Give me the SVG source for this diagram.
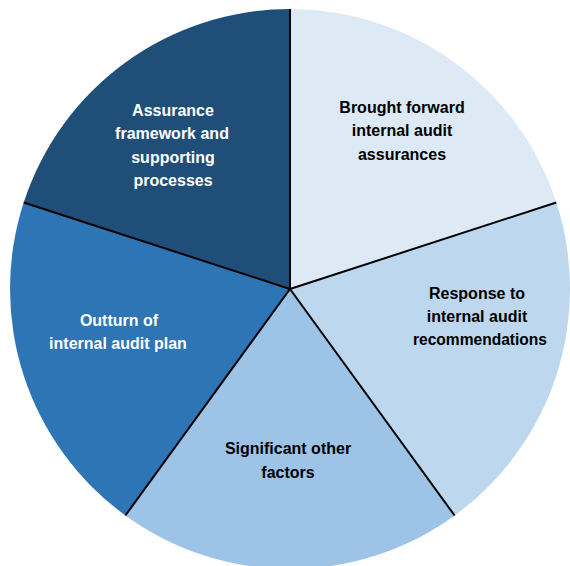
<svg xmlns="http://www.w3.org/2000/svg" width="570" height="566" viewBox="0 0 570 566">
  <style>
    .lbl { font-family: "Liberation Sans", Arial, sans-serif; font-weight: bold; font-size: 16px; text-anchor: middle; }
    .dark { fill: #000000; }
    .light { fill: #ffffff; }
    .sep { stroke: #000000; stroke-width: 2; fill: none; }
  </style>
  <rect width="570" height="566" fill="#ffffff"/>

  <g id="slice-brought-forward">
    <path d="M290,289 L290,9 A280,280 0 0 1 556.3,202.5 Z" fill="#dde9f5"/>
    <text class="lbl dark" x="402" y="113">Brought forward</text>
    <text class="lbl dark" x="402" y="136">internal audit</text>
    <text class="lbl dark" x="402" y="160">assurances</text>
  </g>

  <g id="slice-response">
    <path d="M290,289 L556.3,202.5 A280,280 0 0 1 454.6,515.5 Z" fill="#bdd7ee"/>
    <text class="lbl dark" x="477" y="299">Response to</text>
    <text class="lbl dark" x="477" y="322">internal audit</text>
    <text class="lbl dark" x="480" y="345" textLength="134" lengthAdjust="spacingAndGlyphs">recommendations</text>
  </g>

  <g id="slice-significant">
    <path d="M290,289 L454.6,515.5 A280,280 0 0 1 125.4,515.5 Z" fill="#9dc3e6"/>
    <text class="lbl dark" x="288" y="454">Significant other</text>
    <text class="lbl dark" x="288" y="478">factors</text>
  </g>

  <g id="slice-outturn">
    <path d="M290,289 L125.4,515.5 A280,280 0 0 1 23.7,202.5 Z" fill="#2e75b6"/>
    <text class="lbl light" x="119" y="326">Outturn of</text>
    <text class="lbl light" x="118" y="349">internal audit plan</text>
  </g>

  <g id="slice-assurance">
    <path d="M290,289 L23.7,202.5 A280,280 0 0 1 290,9 Z" fill="#1f4e79"/>
    <text class="lbl light" x="173" y="116">Assurance</text>
    <text class="lbl light" x="172" y="139">framework and</text>
    <text class="lbl light" x="173" y="163">supporting</text>
    <text class="lbl light" x="173" y="186">processes</text>
  </g>

  <g id="connectors">
    <line class="sep" x1="290" y1="289" x2="290" y2="9"/>
    <line class="sep" x1="290" y1="289" x2="556.3" y2="202.5"/>
    <line class="sep" x1="290" y1="289" x2="454.6" y2="515.5"/>
    <line class="sep" x1="290" y1="289" x2="125.4" y2="515.5"/>
    <line class="sep" x1="290" y1="289" x2="23.7" y2="202.5"/>
  </g>
</svg>
